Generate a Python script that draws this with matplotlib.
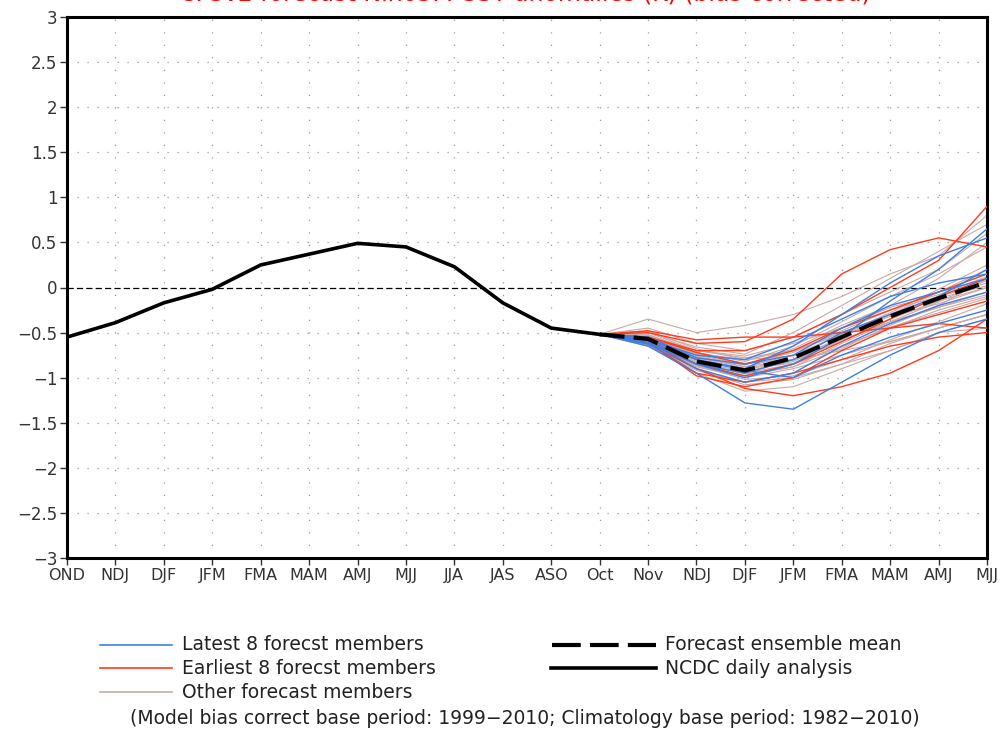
import matplotlib
matplotlib.use("Agg")
import matplotlib.pyplot as plt
from matplotlib.lines import Line2D

# ---------------- data ----------------
seasons = ["OND", "NDJ", "DJF", "JFM", "FMA", "MAM", "AMJ", "MJJ", "JJA", "JAS",
           "ASO", "Oct", "Nov", "NDJ", "DJF", "JFM", "FMA", "MAM", "AMJ", "MJJ"]
yticks = [-3, -2.5, -2, -1.5, -1, -0.5, 0, 0.5, 1, 1.5, 2, 2.5, 3]
ytick_labels = ["\u22123", "\u22122.5", "\u22122", "\u22121.5", "\u22121", "\u22120.5",
                "0", "0.5", "1", "1.5", "2", "2.5", "3"]

# observed (NCDC daily analysis), OND ... Oct
observed = [-0.55, -0.39, -0.17, -0.02, 0.25, 0.37, 0.49, 0.45, 0.23, -0.17, -0.45, -0.52]

# forecast leads: Oct, Nov, NDJ, DJF, JFM, FMA, MAM, AMJ, MJJ
ens_mean = [-0.52, -0.57, -0.82, -0.92, -0.78, -0.55, -0.32, -0.12, 0.06]

latest8 = [
    [-0.52, -0.62, -0.85, -1.00, -0.85, -0.55, -0.15, 0.20, 0.65],
    [-0.52, -0.60, -0.80, -0.90, -0.65, -0.30, 0.05, 0.35, 0.55],
    [-0.52, -0.65, -0.95, -1.28, -1.35, -1.05, -0.75, -0.50, -0.35],
    [-0.52, -0.58, -0.75, -0.80, -0.60, -0.35, -0.10, 0.05, 0.15],
    [-0.52, -0.55, -0.78, -0.85, -0.75, -0.45, -0.20, -0.05, 0.10],
    [-0.52, -0.63, -0.90, -1.05, -0.95, -0.65, -0.40, -0.20, -0.05],
    [-0.52, -0.60, -0.85, -0.95, -0.80, -0.50, -0.30, -0.10, 0.20],
    [-0.52, -0.57, -0.80, -0.92, -1.00, -0.75, -0.55, -0.40, -0.25],
]

earliest8 = [
    [-0.52, -0.50, -0.62, -0.60, -0.35, 0.15, 0.42, 0.55, 0.45],
    [-0.52, -0.60, -0.90, -1.12, -1.20, -1.10, -0.95, -0.70, -0.35],
    [-0.52, -0.55, -0.70, -0.70, -0.55, -0.30, 0.00, 0.30, 0.90],
    [-0.52, -0.60, -0.98, -1.10, -1.00, -0.70, -0.45, -0.40, -0.45],
    [-0.52, -0.48, -0.58, -0.55, -0.55, -0.50, -0.45, -0.30, -0.15],
    [-0.52, -0.62, -0.95, -1.05, -0.95, -0.80, -0.65, -0.55, -0.50],
    [-0.52, -0.55, -0.72, -0.85, -0.70, -0.45, -0.25, -0.05, 0.15],
    [-0.52, -0.58, -0.85, -0.98, -0.85, -0.60, -0.35, -0.10, 0.10],
]

others = [
    [-0.52, -0.35, -0.50, -0.42, -0.30, -0.10, 0.15, 0.35, 0.80],
    [-0.52, -0.45, -0.62, -0.70, -0.55, -0.30, -0.05, 0.20, 0.60],
    [-0.52, -0.50, -0.70, -0.78, -0.70, -0.50, -0.30, -0.05, 0.20],
    [-0.52, -0.55, -0.75, -0.85, -0.72, -0.48, -0.25, -0.10, 0.05],
    [-0.52, -0.58, -0.80, -0.90, -0.80, -0.60, -0.35, -0.15, 0.00],
    [-0.52, -0.60, -0.85, -0.95, -0.85, -0.65, -0.45, -0.25, -0.10],
    [-0.52, -0.62, -0.88, -1.00, -0.90, -0.75, -0.60, -0.45, -0.30],
    [-0.52, -0.65, -0.92, -1.05, -1.00, -0.85, -0.70, -0.50, -0.35],
    [-0.52, -0.52, -0.72, -0.82, -0.65, -0.38, -0.10, 0.15, 0.45],
    [-0.52, -0.57, -0.78, -0.88, -0.75, -0.52, -0.28, -0.02, 0.25],
    [-0.52, -0.60, -0.83, -0.93, -0.82, -0.58, -0.40, -0.22, -0.05],
    [-0.52, -0.56, -0.77, -0.86, -0.68, -0.42, -0.20, 0.10, 0.50],
    [-0.52, -0.54, -0.74, -0.84, -0.80, -0.70, -0.60, -0.45, -0.30],
    [-0.52, -0.63, -0.90, -1.08, -1.02, -0.85, -0.62, -0.45, -0.30],
    [-0.52, -0.59, -0.82, -0.96, -0.88, -0.68, -0.42, -0.20, 0.10],
    [-0.52, -0.53, -0.70, -0.76, -0.62, -0.45, -0.22, -0.08, 0.12],
    [-0.52, -0.61, -0.86, -1.02, -0.98, -0.80, -0.58, -0.38, -0.18],
    [-0.52, -0.56, -0.76, -0.88, -0.80, -0.55, -0.30, -0.12, 0.02],
    [-0.52, -0.50, -0.66, -0.74, -0.50, -0.20, 0.10, 0.40, 0.70],
    [-0.52, -0.64, -0.95, -1.15, -1.10, -0.90, -0.70, -0.50, -0.45],
    [-0.52, -0.58, -0.79, -0.90, -0.84, -0.66, -0.44, -0.28, -0.12],
    [-0.52, -0.55, -0.73, -0.80, -0.70, -0.52, -0.32, -0.18, 0.00],
    [-0.52, -0.62, -0.87, -0.98, -0.88, -0.62, -0.38, -0.16, 0.08],
    [-0.52, -0.48, -0.68, -0.80, -0.76, -0.58, -0.38, -0.22, -0.08],
]

legend_labels = ["Latest 8 forecst members", "Earliest 8 forecst members",
                 "Other forecast members", "Forecast ensemble mean",
                 "NCDC daily analysis"]
footnote = "(Model bias correct base period: 1999\u22122010; Climatology base period: 1982\u22122010)"
title = "CFSv2 forecast Nino3.4 SST anomalies (K) (bias corrected)"

# ---------------- style ----------------
BLUE = "#3f7fe0"
RED = "#ff3b1a"
GRAY = "#c9a9a6"
GRID = "#9a9a9a"
TXT = "#222222"
plt.rcParams["font.family"] = ["DejaVu Sans"]

fig = plt.figure(figsize=(10.04, 7.33), dpi=100)
ax = fig.add_axes([67 / 1004, 1 - 558 / 733, (987 - 67) / 1004, (558 - 17) / 733])

x_obs = list(range(len(observed)))
start = len(observed) - 1
x_fc = list(range(start, start + len(ens_mean)))

# grid
for xi in range(1, len(seasons) - 1):
    ax.axvline(xi, color=GRID, lw=0.9, ls=(0, (1, 9)), zorder=0)
for yv in yticks[1:-1]:
    if yv != 0:
        ax.axhline(yv, color=GRID, lw=0.9, ls=(0, (1, 7)), zorder=0)
ax.axhline(0, color="black", lw=0.9, ls=(0, (5, 2.5)), zorder=1)

for m in others:
    ax.plot(x_fc, m, color=GRAY, lw=0.8, zorder=2)
for m in earliest8:
    ax.plot(x_fc, m, color=RED, lw=1.0, zorder=3)
for m in latest8:
    ax.plot(x_fc, m, color=BLUE, lw=1.0, zorder=3)

ax.plot(x_fc, ens_mean, color="black", lw=3.0, ls=(0, (6, 2.2)), zorder=5)
ax.plot(x_obs, observed, color="black", lw=2.6, zorder=5)

ax.set_xlim(0, len(seasons) - 1)
ax.set_ylim(-3, 3)
ax.set_xticks(range(len(seasons)))
ax.set_xticklabels(seasons, fontsize=11.5)
ax.set_yticks(yticks)
ax.set_yticklabels(ytick_labels, fontsize=12)
ax.tick_params(direction="out", length=5, width=1, colors="#333333", pad=2)
for s in ax.spines.values():
    s.set_linewidth(2.2)

# title (cut off at the top edge as in the reference)
fig.text(525 / 1004, 1 - 0.3 / 733, title, color="red", fontsize=17,
         ha="center", va="baseline")


def fx(px):
    return px / 1004


def fy(py):
    return 1 - py / 733


rows = [645, 668, 692]
fig.add_artist(Line2D([fx(100), fx(172)], [fy(rows[0])] * 2, color=BLUE, lw=1.2))
fig.add_artist(Line2D([fx(100), fx(172)], [fy(rows[1])] * 2, color=RED, lw=1.2))
fig.add_artist(Line2D([fx(100), fx(172)], [fy(rows[2])] * 2, color=GRAY, lw=1.2))
fig.add_artist(Line2D([fx(552), fx(656)], [fy(rows[0])] * 2, color="black", lw=3,
                      ls=(0, (6.9, 2.2))))
fig.add_artist(Line2D([fx(551), fx(656)], [fy(rows[1])] * 2, color="black", lw=2.6))
for i, r in enumerate(rows):
    fig.text(fx(182), fy(r), legend_labels[i], fontsize=13.5, va="center", ha="left",
             color=TXT)
for i, r in enumerate(rows[:2]):
    fig.text(fx(665), fy(r), legend_labels[3 + i], fontsize=13.5, va="center",
             ha="left", color=TXT)
fig.text(fx(525), fy(718), footnote, fontsize=13.5, va="center", ha="center",
         color=TXT)

fig.savefig("out.png", dpi=100, facecolor="white")
